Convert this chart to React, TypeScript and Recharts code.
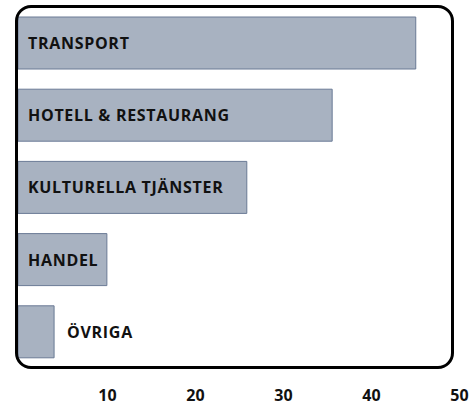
import { BarChart, Bar, XAxis, YAxis, LabelList } from 'recharts'

const CATEGORIES = ['TRANSPORT', 'HOTELL & RESTAURANG', 'KULTURELLA TJÄNSTER', 'HANDEL', 'ÖVRIGA']
const VALUES = [45.2, 35.7, 26.0, 10.1, 4.1]
const X_TICKS = [10, 20, 30, 40, 50]

const data = CATEGORIES.map((name, i) => ({ name, value: VALUES[i] }))

const FONT = '"Open Sans", Lato, sans-serif'
const BAR_FILL = '#a8b2c1'
const BAR_STROKE = '#6a7a95'

// category name sits inside the bar, or just past its end if the bar is too short
function BarLabel({ x, y, width, height, value }: any) {
  const inside = width > 60
  const tx = inside ? x + 10 : x + width + 13
  return (
    <text
      x={tx}
      y={y + height / 2}
      dominantBaseline="central"
      fontFamily={FONT}
      fontSize={16}
      fontWeight={700}
      letterSpacing={0.7}
      fill="#111"
    >
      {value}
    </text>
  )
}

export default function App() {
  return (
    <div style={{ position: 'absolute', left: 0, top: 0, width: 471, height: 405, background: '#fff' }}>
      <BarChart
        width={471}
        height={405}
        data={data}
        layout="vertical"
        margin={{ top: 7, right: 13, bottom: 0, left: 18 }}
      >
        <XAxis
          type="number"
          domain={[0, 50]}
          ticks={X_TICKS}
          interval={0}
          axisLine={false}
          tickLine={false}
          tickMargin={16}
          height={37}
          tick={{ fontSize: 16, fontWeight: 700, fill: '#111', fontFamily: FONT, dx: 1.5 }}
        />
        <YAxis type="category" dataKey="name" hide />
        <Bar dataKey="value" barSize={52} fill={BAR_FILL} stroke={BAR_STROKE} strokeWidth={1} isAnimationActive={false}>
          <LabelList dataKey="name" content={<BarLabel />} />
        </Bar>
      </BarChart>
      {/* rounded frame around the plot */}
      <div
        style={{
          position: 'absolute',
          left: 15,
          top: 5,
          width: 439,
          height: 364,
          boxSizing: 'border-box',
          border: '3px solid #000',
          borderRadius: 16,
          pointerEvents: 'none',
        }}
      />
    </div>
  )
}
